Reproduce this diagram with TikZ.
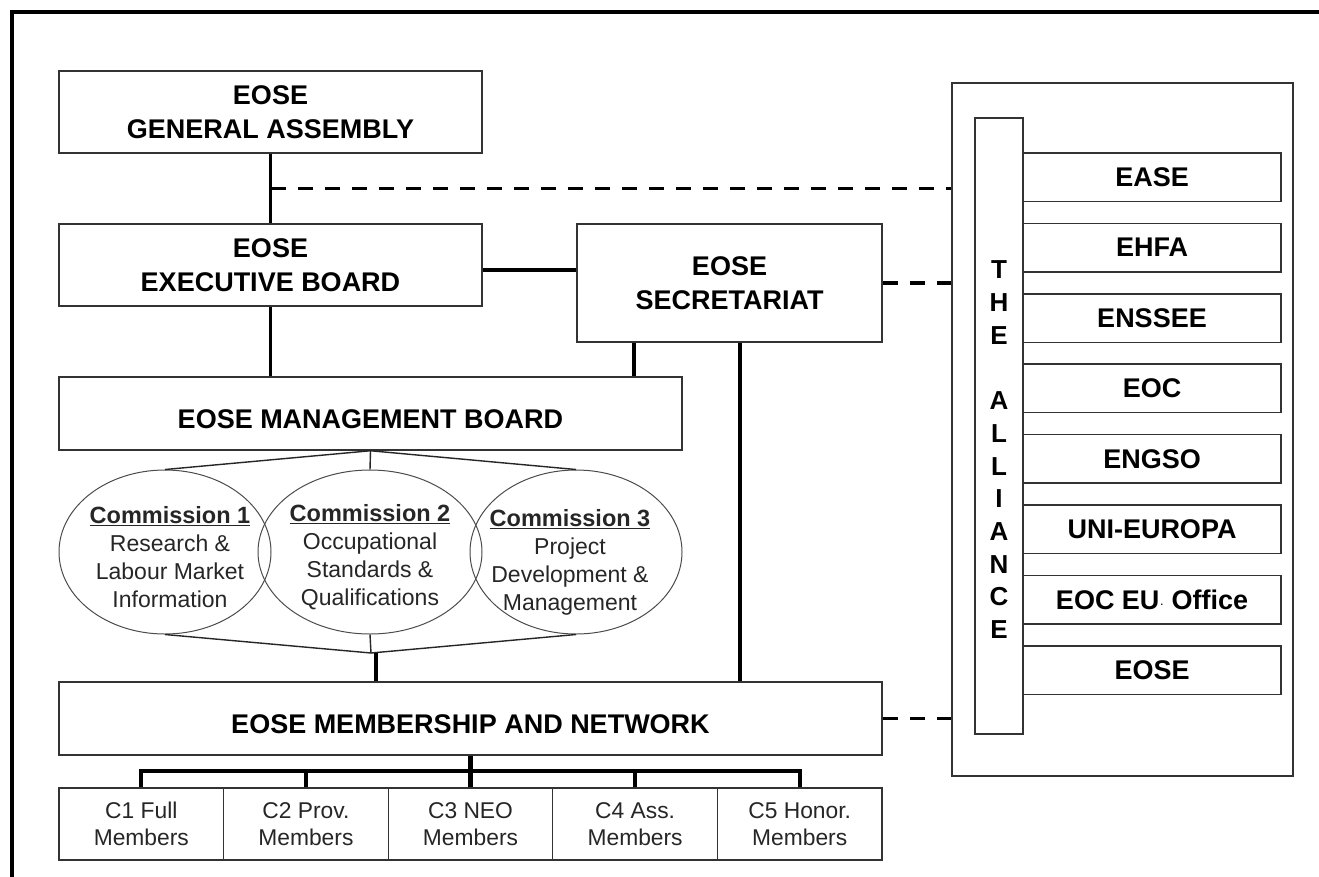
\documentclass[tikz,border=0pt]{standalone}
\usepackage{fontspec}
\setmainfont{Liberation Sans}
\usetikzlibrary{shapes.geometric,calc}
\newcommand\eoseBig{\fontsize{27}{34}\selectfont\bfseries}
\newcommand\eoseComm{\fontsize{23}{28}\selectfont}
\newcommand\eoseHead{\fontsize{23.5}{28}\selectfont\bfseries}
\newcommand\eoseSmall{\fontsize{22.8}{27}\selectfont}
\newcommand\eoseLetter{\fontsize{26}{30}\selectfont\bfseries}
\begin{document}
\begin{tikzpicture}[x=1pt,y=-1pt,
  bigbox/.style={draw=black!80, line width=1.5pt, inner sep=0pt, align=center, font=\eoseBig},
  orgbox/.style={draw=black!80, line width=1.5pt, inner sep=0pt, minimum width=258pt, minimum height=48.5pt, font=\eoseBig},
  membox/.style={draw=black!80, line width=1.2pt, inner sep=0pt, minimum width=164.6pt, minimum height=72pt, align=center, font=\eoseSmall, text=black!85},
  comm/.style={ellipse, draw=black!70, line width=1pt, inner sep=0pt, minimum height=164pt},
  commtext/.style={align=center, font=\eoseComm, text=black!85, inner sep=0pt},
  conn/.style={line width=3.2pt, black},
  thinconn/.style={line width=1.4pt, black!85},
  dashconn/.style={line width=3.5pt, black, dash pattern=on 15pt off 12pt},
  bus/.style={line width=4.2pt, black},
  letter/.style={font=\eoseLetter, inner sep=0pt}
]
\useasboundingbox (0,0) rectangle (1319,876);
\fill[white] (0,0) rectangle (1319,876);
\draw[line width=4pt] (12,885) -- (12,12) -- (1330,12);

% left column boxes
\node[bigbox, minimum width=423pt, minimum height=82pt] (ga) at (270.5,112) {EOSE\\GENERAL ASSEMBLY};
\node[bigbox, minimum width=423pt, minimum height=82pt] (ex) at (270.5,265) {EOSE\\EXECUTIVE BOARD};
\node[bigbox, minimum width=305pt, minimum height=118pt] (sec) at (729.5,283) {EOSE\\SECRETARIAT};
\node[bigbox, minimum width=623pt, minimum height=73pt] (mb) at (370.5,413.5) {\raisebox{-6pt}[\height][\depth]{EOSE MANAGEMENT BOARD}};
\node[bigbox, minimum width=823pt, minimum height=73pt] (mem) at (470.5,718.5) {\raisebox{-6pt}[\height][\depth]{EOSE MEMBERSHIP AND NETWORK}};

% commissions
\node[comm, minimum width=212pt] (e1) at (165,552) {};
\node[comm, minimum width=224pt] (e2) at (370,552) {};
\node[comm, minimum width=212pt] (e3) at (576,552) {};
\node[commtext] (t1) at (170,557) {{\eoseHead\underline{Commission 1}}\\Research \&\\Labour Market\\Information};
\node[commtext] (t2) at (370,557) {{\eoseHead\underline{Commission 2}}\\Occupational\\Standards \&\\Qualifications};
\node[commtext] (t3) at (570,562) {{\eoseHead\underline{Commission 3}}\\Project\\Development \&\\Management};

% member categories
\node[membox] (c1) at (141.3,824) {C1 Full\\Members};
\node[membox] (c2) at (305.9,824) {C2 Prov.\\Members};
\node[membox] (c3) at (470.5,824) {C3 NEO\\Members};
\node[membox] (c4) at (635.1,824) {C4 Ass.\\Members};
\node[membox] (c5) at (799.7,824) {C5 Honor.\\Members};

% alliance
\node[draw=black!80, line width=1.5pt, minimum width=341pt, minimum height=693pt, inner sep=0pt] (al) at (1122.5,429.5) {};
\node[draw=black!80, line width=1.5pt, minimum width=48pt, minimum height=616pt, inner sep=0pt] (bar) at (999,426) {};
\foreach \t [count=\i from 0] in {EASE,EHFA,ENSSEE,EOC,ENGSO,UNI-EUROPA,{EOC EU\hspace{1pt}{\fontsize{9}{9}\selectfont\raisebox{4pt}{.}}\hspace{1pt} Office},EOSE}
  \node[orgbox] (o\i) at (1152,{177.2+70.4*\i}) {\t};
\foreach \ch/\k in {T/0,H/1,E/2,A/4,L/5,L/6,I/7,A/8,N/9,C/10,E/11}
  \node[letter] (l\k) at (999,{270+32.7*\k}) {\ch};

% connectors
\draw[conn] (ga.south) -- (ex.north);
\coordinate (d1) at ($(ga.south)!0.5!(ex.north)$);
\draw[dashconn] (d1) -- (d1 -| al.west);
\draw[conn] ([yshift=-5pt]ex.east) -- ([yshift=-5pt]ex.east -| sec.west);
\draw[conn] (ex.south) -- (ex.south |- mb.north);
\draw[conn] ([xshift=-95.5pt]sec.south) -- ([xshift=-95.5pt]sec.south |- mb.north);
\draw[conn] ([xshift=10.5pt]sec.south) -- ([xshift=10.5pt]sec.south |- mem.north);
\draw[dashconn] (sec.east) -- (sec.east -| al.west);
\draw[dashconn] (mem.east) -- (mem.east -| al.west);

\draw[thinconn] (mb.south) -- (e1.north);
\draw[thinconn] (mb.south) -- (e2.north);
\draw[thinconn] (mb.south) -- (e3.north);
\coordinate (fn) at (371,653);
\draw[thinconn] (e1.south) -- (fn);
\draw[thinconn] (e2.south) -- (fn);
\draw[thinconn] (e3.south) -- (fn);
\draw[conn] ([xshift=5pt]fn) -- ([xshift=5pt]fn |- mem.north);

\coordinate (bus) at (470.5,771);
\draw[bus] (mem.south) -- (mem.south |- bus);
\draw[bus, line join=miter] (c1.north) -- (c1.north |- bus) -- (c5.north |- bus) -- (c5.north);
\foreach \c in {c2,c3,c4}
  \draw[bus] (\c.north) -- (\c.north |- bus);
\end{tikzpicture}
\end{document}
